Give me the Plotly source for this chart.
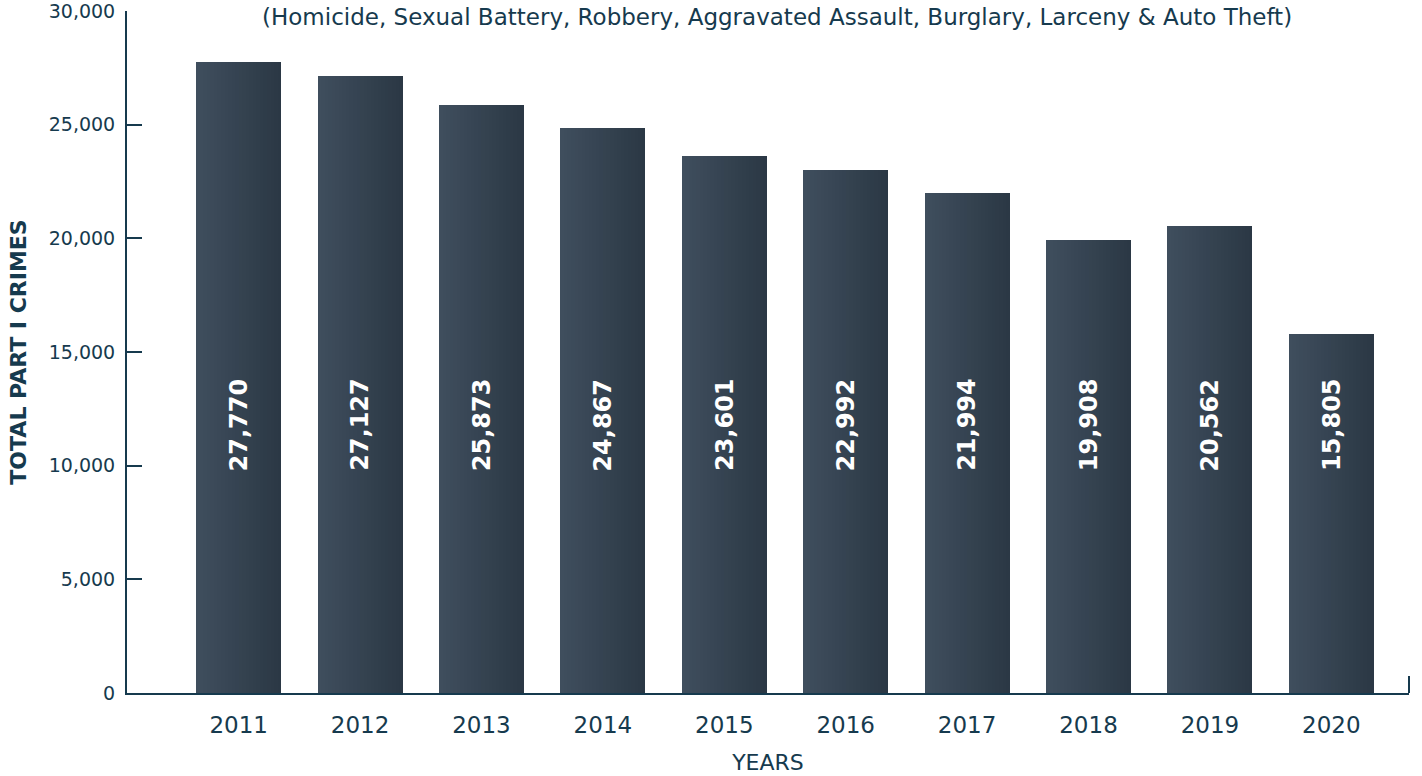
import plotly.graph_objects as go

years = [2011, 2012, 2013, 2014, 2015, 2016, 2017, 2018, 2019, 2020]
crimes = [27770, 27127, 25873, 24867, 23601, 22992, 21994, 19908, 20562, 15805]
subtitle = "(Homicide, Sexual Battery, Robbery, Aggravated Assault, Burglary, Larceny & Auto Theft)"

NAVY = "#163a4e"
FONT = "DejaVu Sans"
BAR_W = 0.70
LEFT_RGB = (63, 78, 93)
RIGHT_RGB = (43, 56, 69)
N_SLICES = 24

fig = go.Figure()
# horizontal gradient made of overlapping slices, each running to the bar's right edge
for i in range(N_SLICES):
    t = i / (N_SLICES - 1)
    r = round(LEFT_RGB[0] + (RIGHT_RGB[0] - LEFT_RGB[0]) * t)
    g = round(LEFT_RGB[1] + (RIGHT_RGB[1] - LEFT_RGB[1]) * t)
    b = round(LEFT_RGB[2] + (RIGHT_RGB[2] - LEFT_RGB[2]) * t)
    start = -BAR_W / 2 + BAR_W * i / N_SLICES
    fig.add_trace(go.Bar(
        x=years, y=crimes,
        width=BAR_W / 2 - start,
        offset=start,
        marker=dict(color=f"rgb({r},{g},{b})", line=dict(width=0)),
        hoverinfo="skip" if i < N_SLICES - 1 else None,
        showlegend=False,
    ))

for yr, v in zip(years, crimes):
    fig.add_annotation(
        x=yr, y=11800, text=f"{v:,}", textangle=-90, showarrow=False,
        font=dict(family=FONT, size=24, color="white", weight="bold"),
    )

fig.add_annotation(
    x=0.507, y=0.991, xref="paper", yref="paper", yanchor="middle",
    text=subtitle, showarrow=False,
    font=dict(family=FONT, size=23, color=NAVY),
)
# small end tick at right of x axis
fig.add_shape(type="line", xref="paper", yref="paper", x0=1, x1=1, y0=0, y1=0.025,
              line=dict(color=NAVY, width=2))

fig.update_layout(
    width=1422, height=776,
    margin=dict(l=127, r=13, t=11, b=83),
    plot_bgcolor="white", paper_bgcolor="white",
    barmode="overlay", bargap=0,
    font=dict(family=FONT, color=NAVY),
    xaxis=dict(
        range=[2010.08, 2020.64], tickmode="array", tickvals=years,
        ticktext=[str(y) for y in years], showgrid=False, zeroline=False,
        showline=True, linecolor=NAVY, linewidth=2, ticks="",
        tickfont=dict(size=23, color=NAVY), ticklabelstandoff=10, automargin=False,
        title=dict(text="YEARS", font=dict(size=22, color=NAVY), standoff=18),
    ),
    yaxis=dict(
        range=[0, 30000], tickmode="array", tickvals=[0, 5000, 10000, 15000, 20000, 25000, 30000],
        tickformat=",", showgrid=False, zeroline=False,
        showline=True, linecolor=NAVY, linewidth=2, ticks="inside", ticklen=15,
        tickwidth=2, tickcolor=NAVY, tickfont=dict(size=19, color=NAVY),
        ticklabelstandoff=6, ticklabeloverflow="allow", automargin=False,
        title=dict(text="<b>TOTAL PART I CRIMES</b>", font=dict(size=22, color=NAVY), standoff=16),
    ),
)

fig.write_html("out.html", config={"displayModeBar": False},
               post_script="document.body.style.margin='0';")
